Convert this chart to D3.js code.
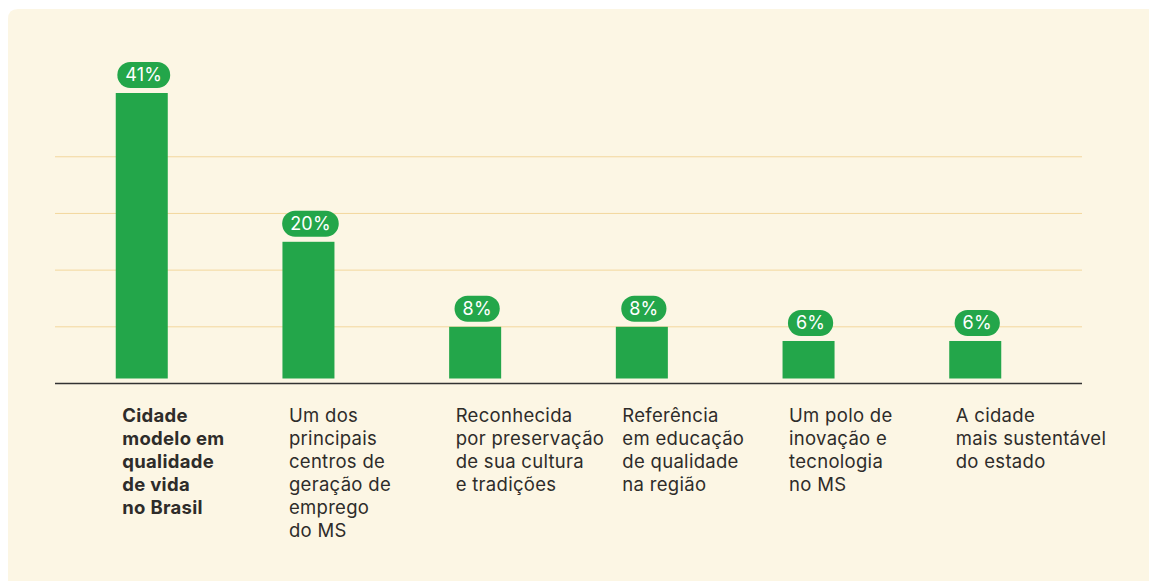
<!DOCTYPE html>
<html>
<head>
<meta charset="utf-8">
<script src="https://cdn.jsdelivr.net/npm/d3@7"></script>
<style>
  html, body { margin: 0; padding: 0; background: #ffffff; }
  svg { display: block; }
</style>
</head>
<body>
<svg id="chart" width="1149" height="581"></svg>
<script>
const categories = [
  ["Cidade", "modelo em", "qualidade", "de vida", "no Brasil"],
  ["Um dos", "principais", "centros de", "geração de", "emprego", "do MS"],
  ["Reconhecida", "por preservação", "de sua cultura", "e tradições"],
  ["Referência", "em educação", "de qualidade", "na região"],
  ["Um polo de", "inovação e", "tecnologia", "no MS"],
  ["A cidade", "mais sustentável", "do estado"]
];
const values = [41, 20, 8, 8, 6, 6];
const valueLabels = ["41%", "20%", "8%", "8%", "6%", "6%"];
const gridValues = [8, 16, 24, 32];
const boldIndex = [0];

const svg = d3.select("#chart");
const W = 1149, H = 581;
const green = "#23a64a";

// card background
svg.append("path")
  .attr("d", `M8,19 Q8,9 18,9 L${W},9 L${W},${H} L8,${H} Z`)
  .attr("fill", "#fcf6e4");

const x = d3.scaleBand()
  .domain(d3.range(values.length))
  .range([115.75, 1001.25])
  .paddingInner(0.688)
  .paddingOuter(0);

const y = d3.scaleLinear().domain([0, 41]).range([383.5, 93]);
const gridX0 = 55, gridX1 = 1082;

// grid lines
svg.append("g").selectAll("line").data(gridValues).join("line")
  .attr("x1", gridX0).attr("x2", gridX1)
  .attr("y1", d => y(d)).attr("y2", d => y(d))
  .attr("stroke", "#f3d79d").attr("stroke-width", 1);

// bars
const barGap = 5;
svg.append("g").selectAll("rect").data(values).join("rect")
  .attr("x", (d, i) => x(i))
  .attr("width", x.bandwidth())
  .attr("y", d => y(d))
  .attr("height", d => y(0) - barGap - y(d))
  .attr("fill", green);

// baseline
svg.append("line")
  .attr("x1", gridX0).attr("x2", gridX1)
  .attr("y1", y(0)).attr("y2", y(0))
  .attr("stroke", "#333333").attr("stroke-width", 1.3);

// value pills
const pills = svg.append("g").selectAll("g").data(values).join("g")
  .attr("transform", (d, i) => `translate(${x(i) + x.bandwidth() / 2 + 2},${y(d) - 5 - 13})`);
pills.each(function(d, i) {
  const g = d3.select(this);
  const rect = g.append("rect").attr("fill", green);
  const t = g.append("text")
    .attr("text-anchor", "middle")
    .attr("dy", "0.36em")
    .attr("fill", "#ffffff")
    .attr("font-family", "Inter, 'DejaVu Sans', sans-serif")
    .attr("font-size", 18)
    .attr("letter-spacing", 0.2)
    .text(valueLabels[i]);
  const tw = t.node().getComputedTextLength();
  const pw = tw + 16;
  rect.attr("x", -pw / 2).attr("y", -13).attr("width", pw).attr("height", 26).attr("rx", 13);
});

// category labels
const labels = svg.append("g").selectAll("text").data(categories).join("text")
  .attr("x", (d, i) => x(i) + 6.5)
  .attr("y", 422)
  .attr("fill", "#2e2c2a")
  .attr("font-family", "Inter, 'DejaVu Sans', sans-serif")
  .attr("font-size", 18.5)
  .attr("letter-spacing", 0.3)
  .attr("font-weight", (d, i) => boldIndex.includes(i) ? 700 : 400);
labels.each(function(lines, i) {
  const t = d3.select(this);
  lines.forEach((ln, j) => {
    t.append("tspan").attr("x", x(i) + 6.5).attr("dy", j === 0 ? 0 : 23).text(ln);
  });
});
</script>
</body>
</html>
